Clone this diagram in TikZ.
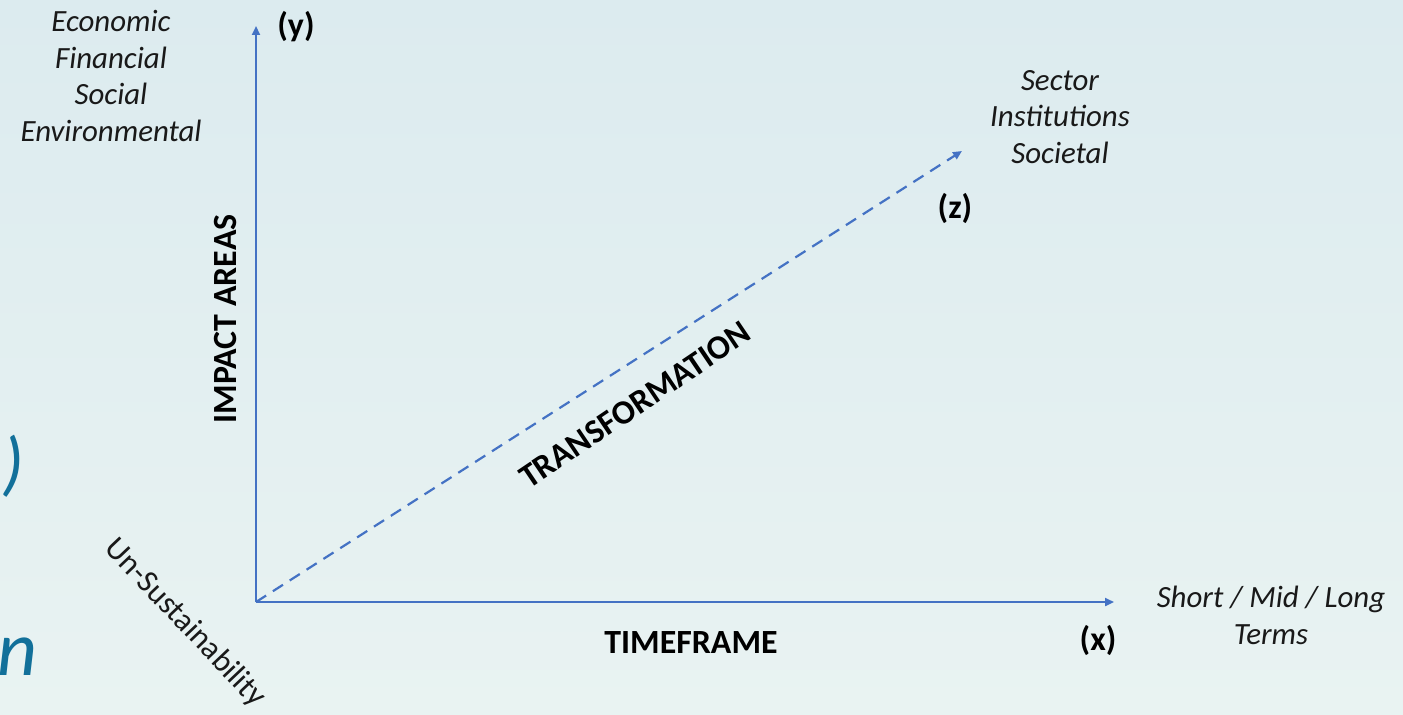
\documentclass[tikz,border=0pt]{standalone}
\usepackage{fontspec}
\setmainfont{Carlito}
\usetikzlibrary{arrows.meta}
\definecolor{axisblue}{HTML}{4472C4}
\definecolor{tealtxt}{HTML}{12709A}
\definecolor{bgtop}{HTML}{DCEBEF}
\definecolor{bgbot}{HTML}{E9F3F2}
\tikzset{
  axis/.style={draw=axisblue, line width=2.2bp, -{Triangle[length=9bp,width=8bp]}},
  dashaxis/.style={draw=axisblue, line width=2.2bp, dash pattern=on 12bp off 8bp, -{Triangle[length=9bp,width=8bp]}},
  itlab/.style={font=\fontsize{31}{37}\selectfont\itshape, align=center, inner sep=0pt, text=black!90},
  bflab/.style={font=\fontsize{34}{40}\selectfont\bfseries, inner sep=0pt, text=black},
}
\begin{document}
\begin{tikzpicture}[x=1bp,y=-1bp]
\shade[top color=bgtop, bottom color=bgbot] (0,0) rectangle (1403,714);
\useasboundingbox (0,0) rectangle (1403,714);
% coordinates
\coordinate (o) at (256,602);
\coordinate (ytop) at (256,26);
\coordinate (xend) at (1114,602);
\coordinate (zend) at (962,151);
\draw[axis] (o) -- (ytop);
\draw[axis] (o) -- (xend);
\draw[dashaxis] (o) -- (zend);
% labels
\node[itlab] (areas) at (111,76) {Economic\\Financial\\Social\\Environmental};
\node[bflab] (ylab) at (296,27) {(y)};
\node[itlab] (levels) at (1060,117) {Sector\\Institutions\\Societal};
\node[bflab] (zlab) at (955,208) {(z)};
\node[itlab] (terms) at (1271,615) {Short / Mid / Long\\Terms};
\node[bflab] (xlab) at (1098,640) {(x)};
\node[bflab] (timeframe) at (691,643) {TIMEFRAME};
\node[bflab, rotate=90] (impact) at (226,319) {IMPACT AREAS};
\node[bflab, rotate=34] (transf) at (635,405) {TRANSFORMATION};
\node[font=\fontsize{32}{36}\selectfont, inner sep=0pt, rotate=-46.5, text=black!90] (unsus) at (185,623) {Un-Sustainability};
% cropped fragments at left edge
\node[font=\fontsize{72}{80}\selectfont\itshape, text=tealtxt, inner sep=0pt, anchor=east] (paren) at (24,466) {)};
\node[font=\fontsize{78}{80}\selectfont\itshape, text=tealtxt, inner sep=0pt, anchor=base east] (nfrag) at (38,675) {n};
\end{tikzpicture}
\end{document}
